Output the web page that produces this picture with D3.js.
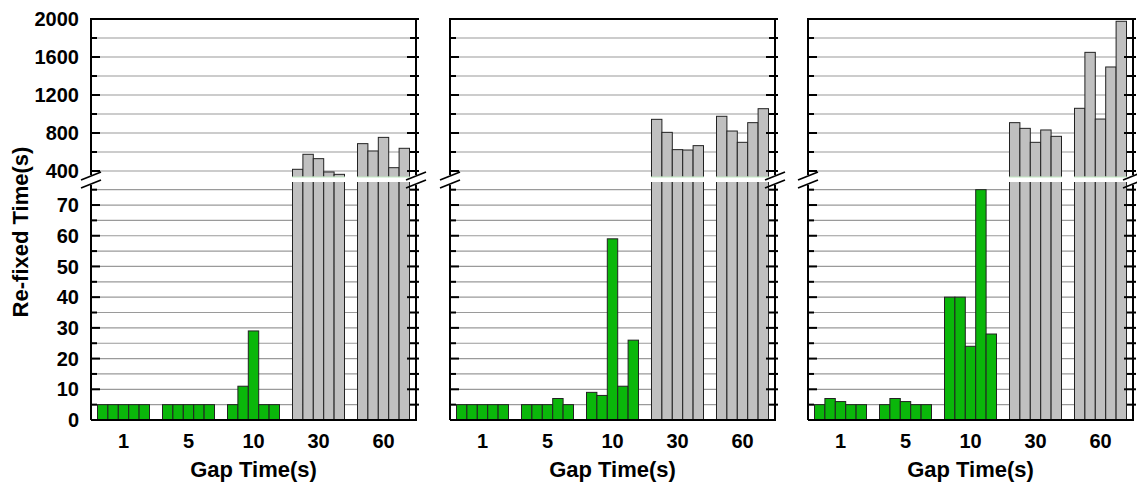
<!DOCTYPE html>
<html>
<head>
<meta charset="utf-8">
<script src="https://cdn.jsdelivr.net/npm/d3@7"></script>
<style>
  body { margin: 0; background: #fff; }
  text { font-family: "Liberation Sans", Arial, sans-serif; font-weight: bold; fill: #000; }
</style>
</head>
<body>
<div id="chart"></div>
<script>
// ------------ data ------------------------------------ //
const groups = ["1", "5", "10", "30", "60"];
const panelA = [[5, 5, 5, 5, 5], [5, 5, 5, 5, 5], [5, 11, 29, 5, 5], [418, 576, 530, 390, 365], [688, 611, 754, 435, 639]];
const panelB = [[5, 5, 5, 5, 5], [5, 5, 5, 7, 5], [9, 8, 59, 11, 26], [944, 807, 625, 621, 667], [976, 821, 702, 909, 1056]];
const panelC = [[5, 7, 6, 5, 5], [5, 7, 6, 5, 5], [40, 40, 24, 75, 28], [909, 849, 702, 832, 765], [1060, 1649, 947, 1495, 1976]];
const panels = [panelA, panelB, panelC];
const lowTicks = [0, 10, 20, 30, 40, 50, 60, 70];
const lowMinor = [5, 15, 25, 35, 45, 55, 65, 75];
const highTicks = [400, 800, 1200, 1600, 2000];
const highMinor = [600, 1000, 1400, 1800];

const W = 1137, H = 486;
const panelLeft = [91, 450, 808];
const pw = 325;
const plotTop = 19, plotBottom = 420;
const gapTop = 177, gapBottom = 182;
const lowMax = 77.5;

const svg = d3.select('#chart').append('svg')
  .attr('width', W).attr('height', H);

// y scales for the broken axis
const yHigh = d3.scaleLinear().domain([337, 2000]).range([gapTop, plotTop]);
const yLow = d3.scaleLinear().domain([0, lowMax]).range([plotBottom, gapBottom]);

const x = d3.scaleBand().domain(groups).range([0, pw]).paddingInner(0.2).paddingOuter(0.1);
const xs = d3.scaleBand().domain(d3.range(5)).range([0, x.bandwidth()]);

function yVal(v) { return v > lowMax ? yHigh(v) : yLow(v); }

function breakMarks(g, cx) {
  [176, 184].forEach(cy => {
    g.append('line')
      .attr('x1', cx - 10).attr('y1', cy + 4)
      .attr('x2', cx + 10).attr('y2', cy - 4)
      .attr('stroke', '#000').attr('stroke-width', 1.6);
  });
}

panels.forEach((data, pi) => {
  const g = svg.append('g').attr('transform', 'translate(' + panelLeft[pi] + ',0)');

  // gridlines
  g.append('g').selectAll('line')
    .data(highTicks.concat(highMinor).filter(d => d < 2000))
    .enter().append('line')
      .attr('x1', 0).attr('x2', pw)
      .attr('y1', d => yHigh(d)).attr('y2', d => yHigh(d))
      .attr('stroke', '#9a9a9a').attr('stroke-width', 1.2);
  g.append('g').selectAll('line')
    .data(lowTicks.concat(lowMinor).filter(d => d > 0))
    .enter().append('line')
      .attr('x1', 0).attr('x2', pw)
      .attr('y1', d => yLow(d)).attr('y2', d => yLow(d))
      .attr('stroke', '#9a9a9a').attr('stroke-width', 1.2);

  // bars
  groups.forEach((grp, gi) => {
    const bg = g.append('g').attr('transform', 'translate(' + x(grp) + ',0)');
    bg.selectAll('rect')
      .data(data[gi])
      .enter().append('rect')
        .attr('x', (d, i) => xs(i))
        .attr('width', xs.bandwidth())
        .attr('y', d => yVal(d))
        .attr('height', d => plotBottom - yVal(d))
        .attr('fill', gi < 3 ? '#0ab70a' : '#c0c0c0')
        .attr('stroke', '#222')
        .attr('stroke-width', 1);
    // white cut through the tall bars
    bg.selectAll('rect.cut')
      .data(data[gi].filter(d => d > lowMax))
      .enter().append('rect')
        .attr('x', (d, i) => xs(data[gi].indexOf(d)) - 1)
        .attr('width', xs.bandwidth() + 2)
        .attr('y', gapTop).attr('height', gapBottom - gapTop)
        .attr('fill', '#fff');
    bg.selectAll('line.cut')
      .data(data[gi].filter(d => d > lowMax))
      .enter().append('line')
        .attr('x1', d => xs(data[gi].indexOf(d)) - 0.5)
        .attr('x2', d => xs(data[gi].indexOf(d)) + xs.bandwidth() + 0.5)
        .attr('y1', gapTop).attr('y2', gapTop)
        .attr('stroke', '#c4eac4').attr('stroke-width', 1);
  });

  // frame
  g.append('line').attr('x1', 0).attr('x2', pw).attr('y1', plotTop).attr('y2', plotTop)
    .attr('stroke', '#000').attr('stroke-width', 2);
  g.append('line').attr('x1', 0).attr('x2', pw + 1).attr('y1', plotBottom).attr('y2', plotBottom)
    .attr('stroke', '#000').attr('stroke-width', 2);
  [0, pw].forEach(xx => {
    g.append('line').attr('x1', xx).attr('x2', xx).attr('y1', plotTop - 1).attr('y2', gapTop - 2)
      .attr('stroke', '#000').attr('stroke-width', 2);
    g.append('line').attr('x1', xx).attr('x2', xx).attr('y1', gapBottom + 3).attr('y2', plotBottom)
      .attr('stroke', '#000').attr('stroke-width', 2);
    breakMarks(g, xx);
  });

  // ticks on both sides, pointing inward
  const tickSets = [
    {s: yHigh, v: highTicks, len: 9}, {s: yHigh, v: highMinor, len: 6},
    {s: yLow, v: lowTicks.filter(d => d > 0), len: 9}, {s: yLow, v: lowMinor, len: 6}
  ];
  tickSets.forEach(t => {
    t.v.forEach(d => {
      g.append('line').attr('x1', 0).attr('x2', t.len)
        .attr('y1', t.s(d)).attr('y2', t.s(d))
        .attr('stroke', '#000').attr('stroke-width', 2);
      g.append('line').attr('x1', pw - t.len).attr('x2', pw + 3)
        .attr('y1', t.s(d)).attr('y2', t.s(d))
        .attr('stroke', '#000').attr('stroke-width', 2);
    });
  });

  // tick labels on the first panel only
  if (pi === 0) {
    g.selectAll('text.hl').data(highTicks).enter().append('text')
      .attr('x', -12).attr('y', d => yHigh(d)).attr('dy', '0.36em')
      .attr('text-anchor', 'end').style('font-size', '20px').text(d => d);
    g.selectAll('text.ll').data(lowTicks).enter().append('text')
      .attr('x', -12).attr('y', d => yLow(d)).attr('dy', '0.36em')
      .attr('text-anchor', 'end').style('font-size', '20px').text(d => d);
    svg.append('text')
      .attr('transform', 'translate(28,232) rotate(-90)')
      .attr('text-anchor', 'middle').style('font-size', '22px').text('Re-fixed Time(s)');
  }

  // x labels
  g.selectAll('text.xl').data(groups).enter().append('text')
    .attr('x', d => x(d) + x.bandwidth() / 2).attr('y', 448)
    .attr('text-anchor', 'middle').style('font-size', '20px').text(d => d);
  g.append('text').attr('x', pw / 2).attr('y', 477)
    .attr('text-anchor', 'middle').style('font-size', '22px').text('Gap Time(s)');
});
</script>
</body>
</html>
